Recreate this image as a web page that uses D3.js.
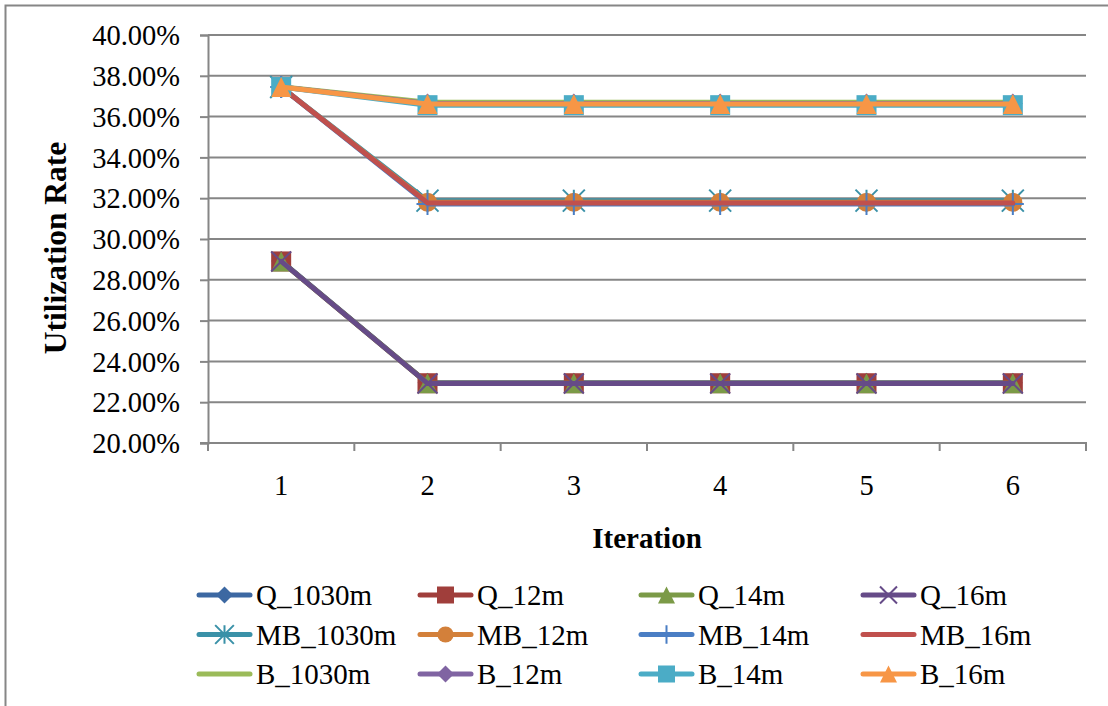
<!DOCTYPE html>
<html>
<head>
<meta charset="utf-8">
<script src="https://cdn.jsdelivr.net/npm/d3@7"></script>
<style>
  html, body { margin: 0; padding: 0; background: #fff; }
  svg { display: block; }
  text { font-family: "Liberation Serif", "Times New Roman", serif; fill: #000; }
</style>
</head>
<body>
<svg id="chart" width="1108" height="706"></svg>
<script>
// Iterations on the x axis
const iterations = ["1", "2", "3", "4", "5", "6"];

// Utilization rate per series (fraction)
const Q_1030m  = [0.2892, 0.2295, 0.2295, 0.2295, 0.2295, 0.2295];
const Q_12m    = [0.2890, 0.2293, 0.2293, 0.2293, 0.2293, 0.2293];
const Q_14m    = [0.2890, 0.2293, 0.2293, 0.2293, 0.2293, 0.2293];
const Q_16m    = [0.2890, 0.2292, 0.2292, 0.2292, 0.2292, 0.2292];
const MB_1030m = [0.3745, 0.3188, 0.3188, 0.3188, 0.3188, 0.3188];
const MB_12m   = [0.3745, 0.3180, 0.3180, 0.3180, 0.3180, 0.3180];
const MB_14m   = [0.3745, 0.3172, 0.3172, 0.3172, 0.3172, 0.3172];
const MB_16m   = [0.3745, 0.3177, 0.3177, 0.3177, 0.3177, 0.3177];
const B_1030m  = [0.3747, 0.3670, 0.3670, 0.3670, 0.3670, 0.3670];
const B_12m    = [0.3745, 0.3664, 0.3664, 0.3664, 0.3664, 0.3664];
const B_14m    = [0.3745, 0.3656, 0.3656, 0.3656, 0.3656, 0.3656];
const B_16m    = [0.3745, 0.3662, 0.3662, 0.3662, 0.3662, 0.3662];

// Y axis tick values
const yTicks = [0.20, 0.22, 0.24, 0.26, 0.28, 0.30, 0.32, 0.34, 0.36, 0.38, 0.40];

const seriesNames  = ["Q_1030m", "Q_12m", "Q_14m", "Q_16m",
                      "MB_1030m", "MB_12m", "MB_14m", "MB_16m",
                      "B_1030m", "B_12m", "B_14m", "B_16m"];
const seriesValues = [Q_1030m, Q_12m, Q_14m, Q_16m,
                      MB_1030m, MB_12m, MB_14m, MB_16m,
                      B_1030m, B_12m, B_14m, B_16m];
const seriesColors = ["#3c68a2", "#a03e3b", "#7b9a47", "#664b88",
                      "#3a91a8", "#d3803a", "#4a7ec4", "#c0504d",
                      "#9bbb59", "#8064a2", "#4bacc6", "#f79646"];
const seriesMarkers = ["diamond", "square", "triangle", "x",
                       "asterisk", "circle", "plus", "none",
                       "none", "diamond", "square", "triangle"];

const svg = d3.select("#chart");
const gridColor = "#868686";

// Outer chart frame
svg.append("rect")
  .attr("x", 5.5).attr("y", 5.5)
  .attr("width", 1120).attr("height", 720)
  .attr("fill", "none").attr("stroke", gridColor).attr("stroke-width", 2);

const plot = { left: 208, right: 1086, top: 35, bottom: 443 };

const x = d3.scaleBand().domain(iterations).range([plot.left, plot.right]);
const xc = d => x(d) + x.bandwidth() / 2;
const y = d3.scaleLinear().domain([0.20, 0.40]).range([plot.bottom, plot.top]);

// Horizontal gridlines
svg.append("g")
  .selectAll("line")
  .data(yTicks.slice(1))
  .join("line")
  .attr("x1", plot.left).attr("x2", plot.right)
  .attr("y1", d => y(d)).attr("y2", d => y(d))
  .attr("stroke", gridColor).attr("stroke-width", 2);

// Y axis
const yAxis = svg.append("g")
  .attr("transform", `translate(${plot.left},0)`)
  .call(d3.axisLeft(y).tickValues(yTicks).tickFormat(d3.format(".2%")).tickSize(8).tickPadding(20));
yAxis.select(".domain").attr("stroke", gridColor).attr("stroke-width", 2);
yAxis.selectAll(".tick line").attr("stroke", gridColor).attr("stroke-width", 2);
yAxis.selectAll(".tick text")
  .attr("font-family", "Liberation Serif")
  .attr("font-size", 28.5)
  .attr("fill", "#000")
  .attr("dy", "0.34em");

// X axis with ticks at category boundaries
const xAxis = svg.append("g")
  .attr("transform", `translate(0,${plot.bottom})`)
  .call(d3.axisBottom(x).tickSize(0).tickPadding(0));
xAxis.select(".domain").remove();
xAxis.selectAll(".tick text")
  .attr("font-family", "Liberation Serif")
  .attr("font-size", 28.5)
  .attr("fill", "#000")
  .attr("y", 52)
  .attr("dy", 0);
svg.append("line")
  .attr("x1", plot.left - 8).attr("x2", plot.right + 1)
  .attr("y1", plot.bottom).attr("y2", plot.bottom)
  .attr("stroke", gridColor).attr("stroke-width", 2);
const boundaries = iterations.map(d => x(d)).concat([plot.right]);
svg.append("g").selectAll("line")
  .data(boundaries)
  .join("line")
  .attr("x1", d => d).attr("x2", d => d)
  .attr("y1", plot.bottom).attr("y2", plot.bottom + 8)
  .attr("stroke", gridColor).attr("stroke-width", 2);

// Axis titles
svg.append("text")
  .attr("x", (plot.left + plot.right) / 2)
  .attr("y", 548)
  .attr("text-anchor", "middle")
  .attr("font-size", 29)
  .attr("font-weight", "bold")
  .text("Iteration");

svg.append("text")
  .attr("transform", "translate(66,248) rotate(-90)")
  .attr("text-anchor", "middle")
  .attr("font-size", 31.5)
  .attr("font-weight", "bold")
  .text("Utilization Rate");

// Marker drawing
function drawMarker(g, type, color, cx, cy, s) {
  const h = s / 2;
  if (type === "diamond") {
    g.append("path")
      .attr("d", `M${cx},${cy - h}L${cx + h},${cy}L${cx},${cy + h}L${cx - h},${cy}Z`)
      .attr("fill", color);
  } else if (type === "square") {
    g.append("rect")
      .attr("x", cx - h).attr("y", cy - h).attr("width", s).attr("height", s)
      .attr("fill", color);
  } else if (type === "triangle") {
    g.append("path")
      .attr("d", `M${cx},${cy - h}L${cx + h},${cy + h}L${cx - h},${cy + h}Z`)
      .attr("fill", color);
  } else if (type === "circle") {
    g.append("circle").attr("cx", cx).attr("cy", cy).attr("r", h).attr("fill", color);
  } else if (type === "x") {
    g.append("path")
      .attr("d", `M${cx - h},${cy - h}L${cx + h},${cy + h}M${cx + h},${cy - h}L${cx - h},${cy + h}`)
      .attr("stroke", color).attr("stroke-width", 2).attr("fill", "none");
  } else if (type === "plus") {
    g.append("path")
      .attr("d", `M${cx},${cy - h}L${cx},${cy + h}M${cx - h},${cy}L${cx + h},${cy}`)
      .attr("stroke", color).attr("stroke-width", 2).attr("fill", "none");
  } else if (type === "asterisk") {
    g.append("path")
      .attr("d", `M${cx - h},${cy - h}L${cx + h},${cy + h}M${cx + h},${cy - h}L${cx - h},${cy + h}M${cx},${cy - h}L${cx},${cy + h}`)
      .attr("stroke", color).attr("stroke-width", 2).attr("fill", "none");
  }
}

const markerSize = { diamond: 20, square: 20, triangle: 20, circle: 19, x: 20, plus: 22, asterisk: 22, none: 0 };

// Series lines and markers, drawn in order
const line = d3.line().x((d, i) => xc(iterations[i])).y(d => y(d));
const seriesLayer = svg.append("g");
seriesValues.forEach((vals, si) => {
  const g = seriesLayer.append("g");
  g.append("path")
    .attr("d", line(vals))
    .attr("fill", "none")
    .attr("stroke", seriesColors[si])
    .attr("stroke-width", 5)
    .attr("stroke-linejoin", "round")
    .attr("stroke-linecap", "round");
  if (seriesMarkers[si] !== "none") {
    vals.forEach((v, i) => drawMarker(g, seriesMarkers[si], seriesColors[si], xc(iterations[i]), y(v), markerSize[seriesMarkers[si]]));
  }
});

// Legend: 3 rows x 4 columns
const legendCols = [197, 418, 639, 861];
const legendRows = [595, 634.5, 674];
const legend = svg.append("g");
seriesNames.forEach((name, i) => {
  const lx = legendCols[i % 4];
  const ly = legendRows[Math.floor(i / 4)];
  const g = legend.append("g");
  g.append("line")
    .attr("x1", lx + 2).attr("x2", lx + 53)
    .attr("y1", ly).attr("y2", ly)
    .attr("stroke", seriesColors[i]).attr("stroke-width", 5)
    .attr("stroke-linecap", "round");
  if (seriesMarkers[i] !== "none") {
    drawMarker(g, seriesMarkers[i], seriesColors[i], lx + 27.5, ly, markerSize[seriesMarkers[i]] * 0.85);
  }
  g.append("text")
    .attr("x", lx + 59)
    .attr("y", ly + 10)
    .attr("font-size", 29)
    .text(name);
});
</script>
</body>
</html>
